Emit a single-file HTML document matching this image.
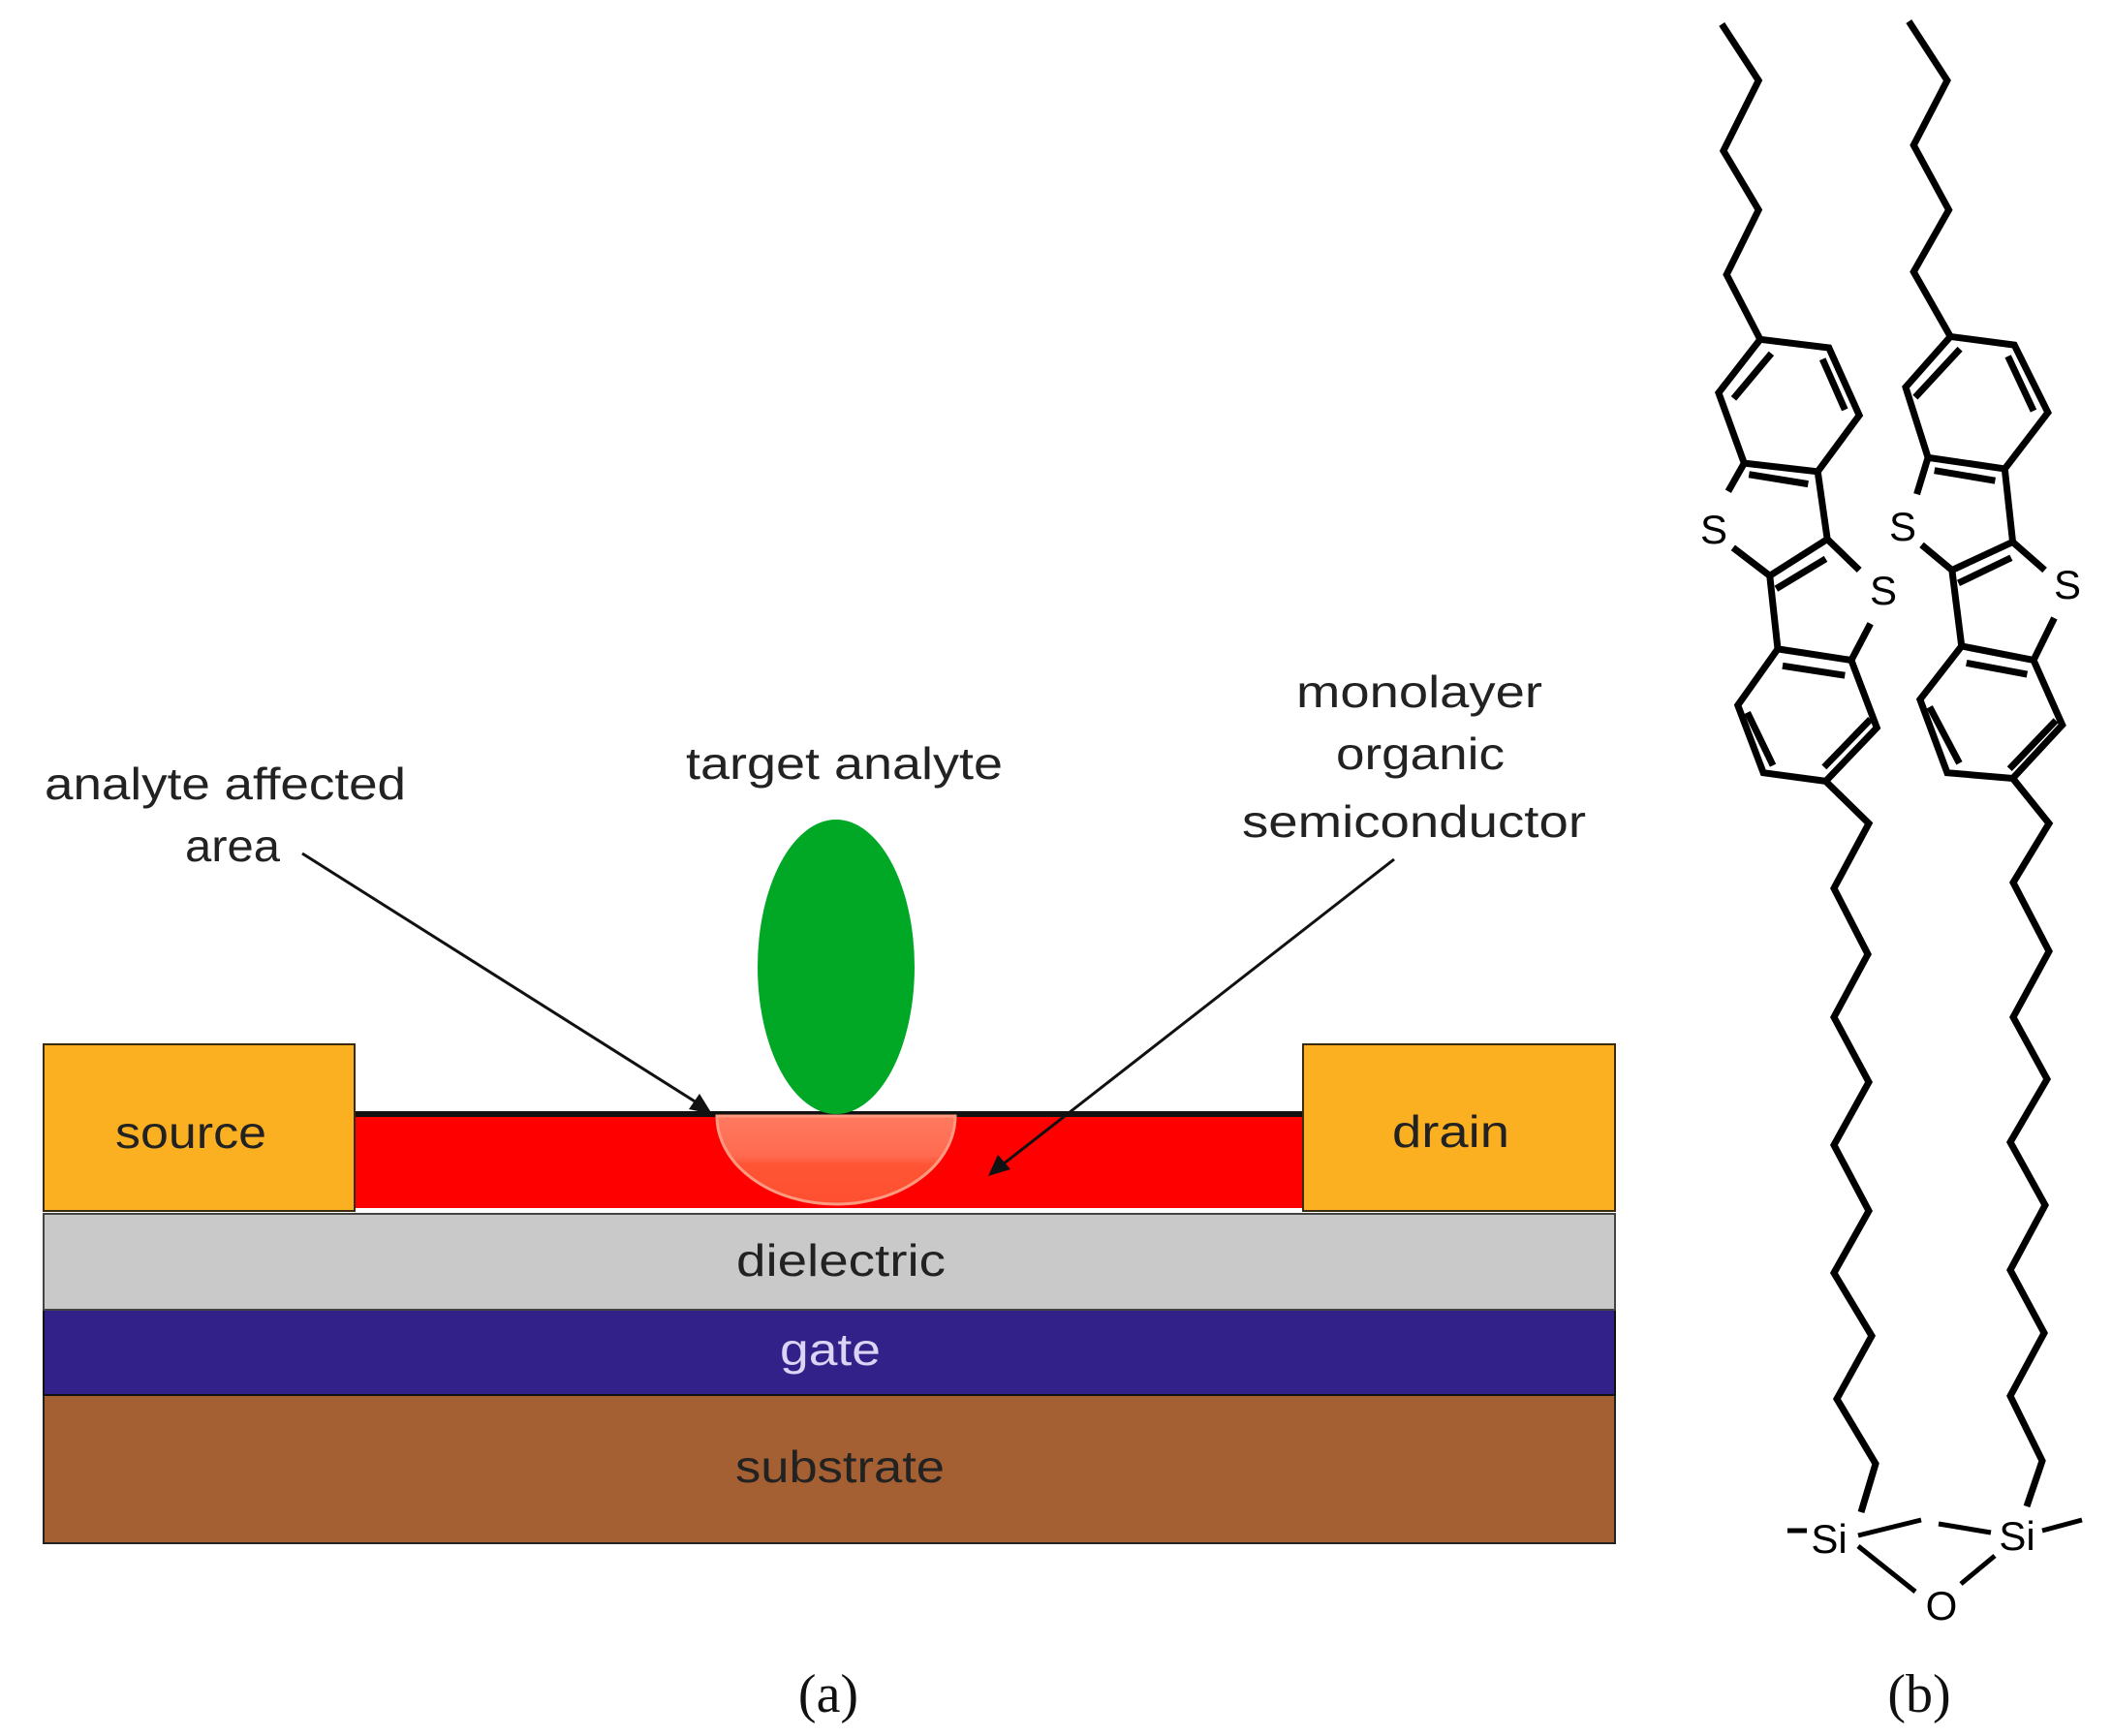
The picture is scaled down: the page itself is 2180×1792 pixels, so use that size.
<!DOCTYPE html>
<html><head><meta charset="utf-8"><style>
html,body{margin:0;padding:0;background:#fff}
svg{display:block}
text{font-family:"Liberation Sans",sans-serif}
</style></head><body>
<svg width="2180" height="1792" viewBox="0 0 2180 1792" xmlns="http://www.w3.org/2000/svg">
<defs>
<linearGradient id="ag" x1="0" y1="0" x2="0" y2="1">
<stop offset="0" stop-color="#FF7A60"/><stop offset="0.45" stop-color="#FF6A50"/><stop offset="0.55" stop-color="#FF5535"/><stop offset="1" stop-color="#FF5030"/>
</linearGradient>
</defs>
<rect width="2180" height="1792" fill="#fff"/>
<rect x="45" y="1440" width="1622" height="153" fill="#A45F32" stroke="#222" stroke-width="2"/>
<rect x="45" y="1352" width="1622" height="88" fill="#33218A" stroke="#111" stroke-width="2"/>
<rect x="45" y="1253" width="1622" height="99" fill="#C9C9C9" stroke="#444" stroke-width="2"/>
<rect x="366" y="1150" width="979" height="97" fill="#FF0000"/>
<rect x="366" y="1147" width="979" height="6" fill="#111"/>
<rect x="45" y="1078" width="321" height="172" fill="#FBB022" stroke="#3a2a10" stroke-width="2"/>
<rect x="1345" y="1078" width="322" height="172" fill="#FBB022" stroke="#3a2a10" stroke-width="2"/>
<path d="M740,1152 A123,91 0 0 0 986,1152 Z" fill="url(#ag)" stroke="#FF9A80" stroke-width="3"/>
<ellipse cx="863" cy="998" rx="81" ry="152" fill="#00A826"/>
<line x1="312" y1="881" x2="722" y2="1140" stroke="#111" stroke-width="3"/>
<polygon points="735,1150 711,1145 722,1129" fill="#111"/>
<line x1="1439" y1="887" x2="1035" y2="1202" stroke="#111" stroke-width="3"/>
<polygon points="1020,1214 1030,1192 1043,1207" fill="#111"/>
<g font-size="46" fill="#222">
<text x="46" y="825" textLength="373" lengthAdjust="spacingAndGlyphs">analyte affected</text>
<text x="191" y="889" textLength="98" lengthAdjust="spacingAndGlyphs">area</text>
<text x="708" y="804" textLength="327" lengthAdjust="spacingAndGlyphs">target analyte</text>
<text x="1338" y="730" textLength="254" lengthAdjust="spacingAndGlyphs">monolayer</text>
<text x="1379" y="794" textLength="174" lengthAdjust="spacingAndGlyphs">organic</text>
<text x="1282" y="864" textLength="355" lengthAdjust="spacingAndGlyphs">semiconductor</text>
<text x="119" y="1185" textLength="156" lengthAdjust="spacingAndGlyphs">source</text>
<text x="1437" y="1184" textLength="121" lengthAdjust="spacingAndGlyphs">drain</text>
<text x="760" y="1317" textLength="216" lengthAdjust="spacingAndGlyphs">dielectric</text>
<text x="805" y="1409" textLength="104" lengthAdjust="spacingAndGlyphs" fill="#DCD4F4">gate</text>
<text x="759" y="1530" textLength="216" lengthAdjust="spacingAndGlyphs">substrate</text>
</g>
<g font-size="56" fill="#111" text-anchor="middle">
<text x="855" y="1767" style="font-family:'Liberation Serif',serif">(a)</text>
<text x="1981" y="1767" style="font-family:'Liberation Serif',serif">(b)</text>
</g>
<g transform="translate(1703,-7) scale(0.330,0.581)" fill="none" stroke="#000" stroke-width="7">
<polyline vector-effect="non-scaling-stroke" points="225,55 340,155 230,280 340,385 240,500 345,615"/>
<polygon vector-effect="non-scaling-stroke" points="345,615 560,630 655,750 525,850 295,835 215,710"/>
<line vector-effect="non-scaling-stroke" x1="380" y1="640" x2="262" y2="720"/>
<line vector-effect="non-scaling-stroke" x1="540" y1="650" x2="610" y2="740"/>
<line vector-effect="non-scaling-stroke" x1="310" y1="855" x2="495" y2="872"/>
<line vector-effect="non-scaling-stroke" x1="295" y1="835" x2="245" y2="885"/>
<line vector-effect="non-scaling-stroke" x1="260" y1="985" x2="375" y2="1035"/>
<line vector-effect="non-scaling-stroke" x1="525" y1="850" x2="555" y2="970"/>
<line vector-effect="non-scaling-stroke" x1="555" y1="970" x2="375" y2="1035"/>
<line vector-effect="non-scaling-stroke" x1="395" y1="1058" x2="550" y2="1005"/>
<line vector-effect="non-scaling-stroke" x1="555" y1="970" x2="655" y2="1025"/>
<line vector-effect="non-scaling-stroke" x1="375" y1="1035" x2="400" y2="1165"/>
<polygon vector-effect="non-scaling-stroke" points="400,1165 630,1185 710,1305 550,1400 355,1385 275,1265"/>
<line vector-effect="non-scaling-stroke" x1="415" y1="1195" x2="610" y2="1212"/>
<line vector-effect="non-scaling-stroke" x1="630" y1="1185" x2="690" y2="1120"/>
<line vector-effect="non-scaling-stroke" x1="305" y1="1278" x2="385" y2="1372"/>
<line vector-effect="non-scaling-stroke" x1="690" y1="1290" x2="545" y2="1375"/>
<polyline vector-effect="non-scaling-stroke" points="810,50 930,155 825,270 935,385 825,495 940,610"/>
<polygon vector-effect="non-scaling-stroke" points="940,610 1140,625 1245,745 1110,845 870,825 800,700"/>
<line vector-effect="non-scaling-stroke" x1="970" y1="632" x2="830" y2="718"/>
<line vector-effect="non-scaling-stroke" x1="1120" y1="645" x2="1200" y2="742"/>
<line vector-effect="non-scaling-stroke" x1="890" y1="848" x2="1080" y2="866"/>
<line vector-effect="non-scaling-stroke" x1="870" y1="825" x2="835" y2="890"/>
<line vector-effect="non-scaling-stroke" x1="850" y1="980" x2="945" y2="1025"/>
<line vector-effect="non-scaling-stroke" x1="1110" y1="845" x2="1135" y2="975"/>
<line vector-effect="non-scaling-stroke" x1="1135" y1="975" x2="945" y2="1025"/>
<line vector-effect="non-scaling-stroke" x1="965" y1="1048" x2="1130" y2="1003"/>
<line vector-effect="non-scaling-stroke" x1="1135" y1="975" x2="1235" y2="1025"/>
<line vector-effect="non-scaling-stroke" x1="945" y1="1025" x2="975" y2="1160"/>
<polygon vector-effect="non-scaling-stroke" points="975,1160 1200,1185 1290,1300 1135,1395 930,1385 845,1255"/>
<line vector-effect="non-scaling-stroke" x1="990" y1="1190" x2="1180" y2="1210"/>
<line vector-effect="non-scaling-stroke" x1="1200" y1="1185" x2="1265" y2="1110"/>
<line vector-effect="non-scaling-stroke" x1="875" y1="1268" x2="968" y2="1368"/>
<line vector-effect="non-scaling-stroke" x1="1270" y1="1292" x2="1125" y2="1378"/>
</g>
<g fill="none" stroke="#000" stroke-width="7">
<polyline points="1884,806 1929,850 1893,917 1928,985 1893,1050 1929,1117 1893,1182 1929,1250 1893,1314 1932,1379 1896,1444 1936,1511 1921,1561"/>
<polyline points="2078,804 2115,850 2078,911 2115,982 2078,1050 2113,1114 2075,1179 2111,1244 2075,1311 2110,1376 2075,1441 2108,1508 2092,1555"/>
</g>
<g fill="none" stroke="#000" stroke-width="5">
<line x1="1845" y1="1580" x2="1865" y2="1580"/>
<line x1="1918" y1="1585" x2="1983" y2="1569"/>
<line x1="1918" y1="1596" x2="1977" y2="1643"/>
<line x1="2024" y1="1635" x2="2059" y2="1606"/>
<line x1="2001" y1="1573" x2="2055" y2="1582"/>
<line x1="2108" y1="1580" x2="2149" y2="1569"/>
</g>
<g font-size="42" fill="#000" text-anchor="middle">
<text x="1888" y="1603">Si</text>
<text x="2082" y="1600">Si</text>
<text x="2004" y="1672">O</text>
<text x="1769" y="561">S</text>
<text x="1944" y="624">S</text>
<text x="1964" y="558">S</text>
<text x="2134" y="618">S</text>
</g>
</svg>
</body></html>
